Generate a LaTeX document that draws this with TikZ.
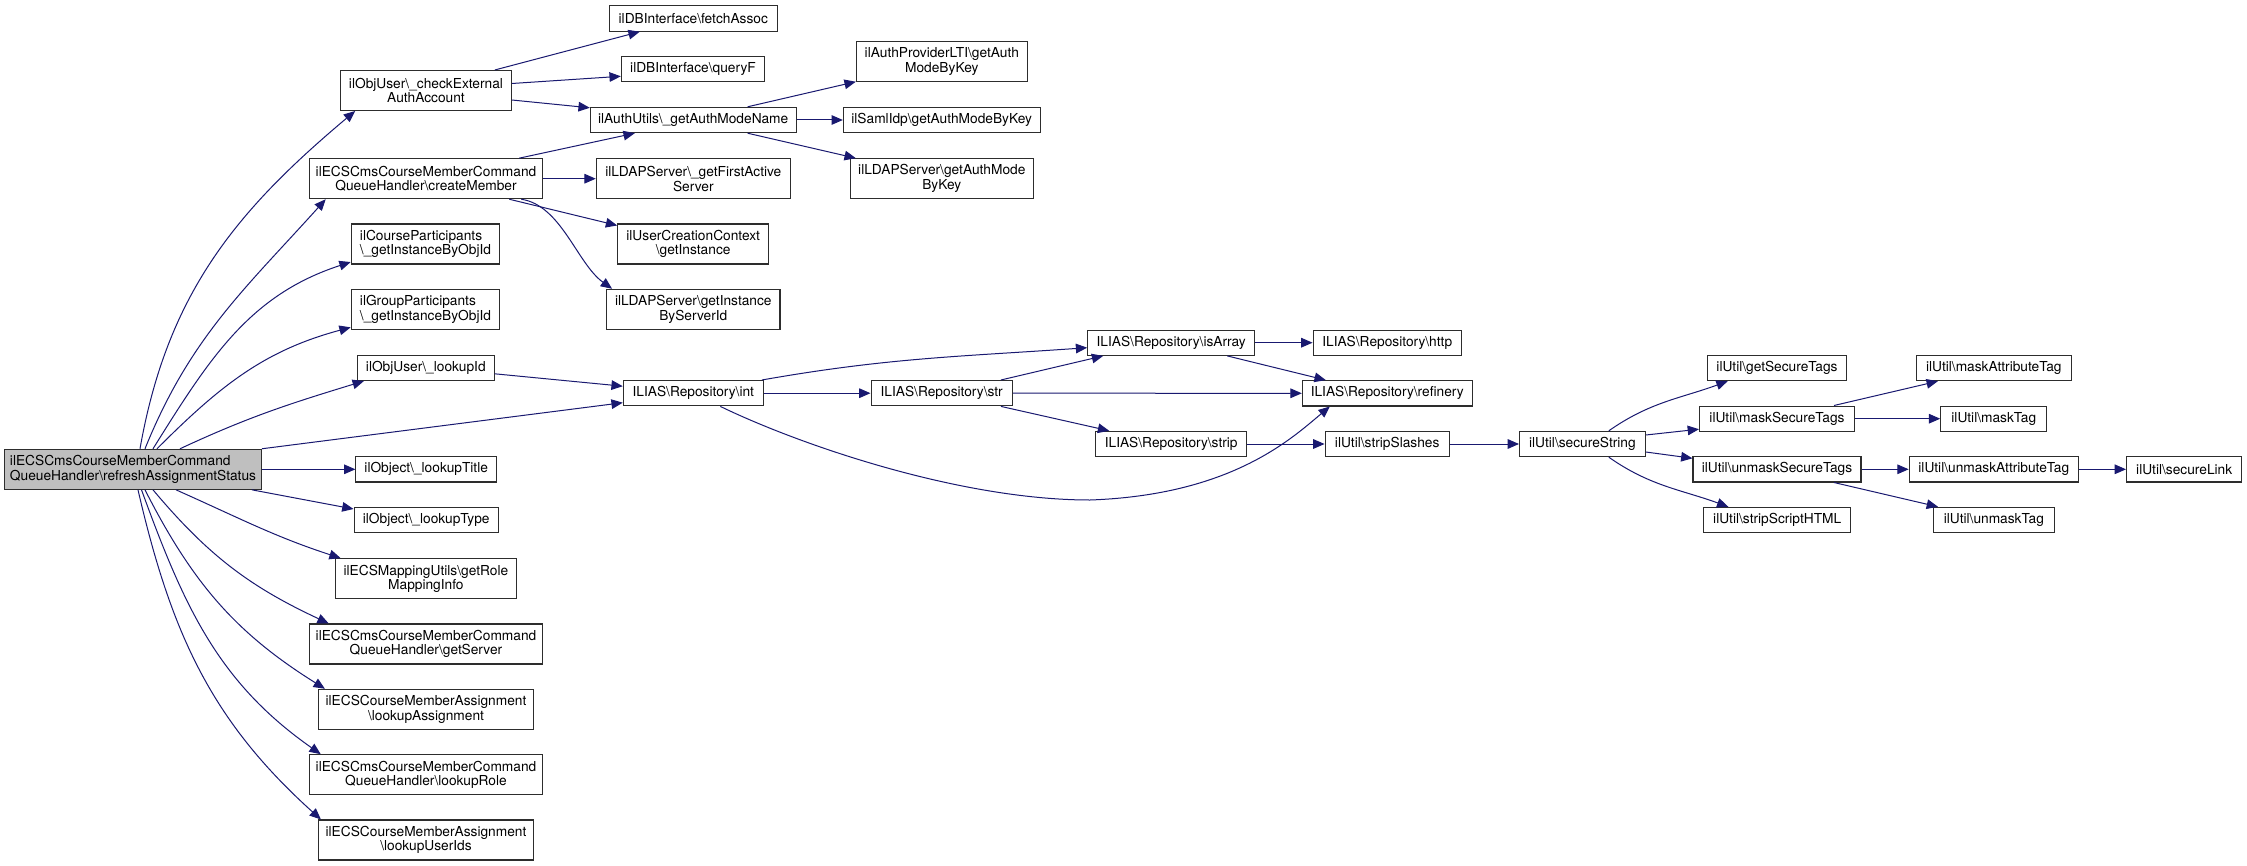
\documentclass[tikz,border=0pt]{standalone}
\usepackage{fontspec}
\setmainfont{TeX Gyre Heros}
\usetikzlibrary{positioning,arrows.meta,calc}
\definecolor{edgeblue}{RGB}{25,25,112}
\definecolor{boxline}{RGB}{45,45,45}
\definecolor{rootgray}{RGB}{191,191,191}
\newcommand{\bsl}{\textbackslash{}}
\tikzset{
  fn/.style={draw=boxline, line width=0.8pt, fill=white, align=center,
             font=\fontsize{10.3}{11}\selectfont, inner xsep=3pt, inner ysep=1pt,
             minimum height=19pt},
  fn2/.style={fn, minimum height=30pt},
  rootfn/.style={fn2, fill=rootgray, align=left},
  call/.style={-{Triangle[length=8.5pt,width=7.2pt]}, draw=edgeblue, line width=0.75pt},
}

\begin{document}
\begin{tikzpicture}[x=0.75pt,y=0.75pt]
  \fill[white] (0,0) rectangle (2247,-866);
  \useasboundingbox (0,0) rectangle (2247,-866);

  % caller
  \node[rootfn, minimum width=192.6pt] (root) at (133,-469.3)
    {ilECSCmsCourseMemberCommand\\QueueHandler\bsl refreshAssignmentStatus};

  % first level
  \node[fn2, minimum width=128pt] (ckext) at (426,-90.5) {ilObjUser\bsl\_checkExternal\\AuthAccount};
  \node[fn2, minimum width=175.1pt] (cmem) at (426,-178.7) {ilECSCmsCourseMemberCommand\\QueueHandler\bsl createMember};
  \node[fn2, minimum width=111.4pt, align=left] (cpart) at (425.5,-244) {ilCourseParticipants\\\bsl\_getInstanceByObjId};
  \node[fn2, minimum width=111.4pt, align=left] (gpart) at (425.5,-309.3) {ilGroupParticipants\\\bsl\_getInstanceByObjId};
  \node[fn, minimum width=102.5pt] (lookid) at (425.8,-367.8) {ilObjUser\bsl\_lookupId};
  \node[fn, minimum width=105.4pt] (ltitle) at (426.2,-469.3) {ilObject\bsl\_lookupTitle};
  \node[fn, minimum width=108.2pt] (ltype) at (426.2,-520) {ilObject\bsl\_lookupType};
  \node[fn2, minimum width=136pt] (rolemap) at (425.9,-578.7) {ilECSMappingUtils\bsl getRole\\MappingInfo};
  \node[fn2, minimum width=175.1pt] (getsrv) at (426,-644) {ilECSCmsCourseMemberCommand\\QueueHandler\bsl getServer};
  \node[fn2, minimum width=161.3pt] (lassign) at (426,-709.3) {ilECSCourseMemberAssignment\\\bsl lookupAssignment};
  \node[fn2, minimum width=175.1pt] (lrole) at (426,-774.7) {ilECSCmsCourseMemberCommand\\QueueHandler\bsl lookupRole};
  \node[fn2, minimum width=161.3pt] (luids) at (426,-840) {ilECSCourseMemberAssignment\\\bsl lookupUserIds};

  % second level
  \node[fn, minimum width=126pt] (fetch) at (693.3,-18.5) {ilDBInterface\bsl fetchAssoc};
  \node[fn, minimum width=107.5pt] (queryf) at (693,-69.3) {ilDBInterface\bsl queryF};
  \node[fn, minimum width=154.3pt] (authname) at (693.2,-120) {ilAuthUtils\bsl\_getAuthModeName};
  \node[fn2, minimum width=145.5pt] (firstact) at (693.3,-178.7) {ilLDAPServer\bsl\_getFirstActive\\Server};
  \node[fn2, minimum width=113.2pt] (usrctx) at (693.2,-244) {ilUserCreationContext\\\bsl getInstance};
  \node[fn2, minimum width=130pt] (byserver) at (693.3,-309.3) {ilLDAPServer\bsl getInstance\\ByServerId};
  \node[fn, minimum width=105pt] (repint) at (693.3,-393.2) {ILIAS\bsl Repository\bsl int};

  \node[fn2, minimum width=128.2pt] (ltimode) at (941.8,-61.2) {ilAuthProviderLTI\bsl getAuth\\ModeByKey};
  \node[fn, minimum width=147.5pt] (samlmode) at (941.7,-120) {ilSamlIdp\bsl getAuthModeByKey};
  \node[fn2, minimum width=137.2pt] (ldapmode) at (941.8,-178.7) {ilLDAPServer\bsl getAuthMode\\ByKey};
  \node[fn, minimum width=106pt] (repstr) at (941.7,-393.2) {ILIAS\bsl Repository\bsl str};

  \node[fn, minimum width=125.2pt] (isarray) at (1171.2,-342.7) {ILIAS\bsl Repository\bsl isArray};
  \node[fn, minimum width=113.2pt] (strip) at (1171.2,-444) {ILIAS\bsl Repository\bsl strip};
  \node[fn, minimum width=111.2pt] (http) at (1387.2,-342.7) {ILIAS\bsl Repository\bsl http};
  \node[fn, minimum width=127.3pt] (refinery) at (1387.2,-393.3) {ILIAS\bsl Repository\bsl refinery};
  \node[fn, minimum width=93.2pt] (stripsl) at (1387.2,-444) {ilUtil\bsl stripSlashes};

  % ilUtil chain
  \node[fn, minimum width=94.3pt] (securestr) at (1582.4,-444) {ilUtil\bsl secureString};
  \node[fn, minimum width=104.7pt] (getsec) at (1777,-368) {ilUtil\bsl getSecureTags};
  \node[fn, minimum width=116.2pt] (masksec) at (1777,-418.7) {ilUtil\bsl maskSecureTags};
  \node[fn, minimum width=126pt] (unmasksec) at (1777,-469.3) {ilUtil\bsl unmaskSecureTags};
  \node[fn, minimum width=110pt] (stripscr) at (1777.2,-520) {ilUtil\bsl stripScriptHTML};
  \node[fn, minimum width=116.1pt] (maskattr) at (1993.8,-368) {ilUtil\bsl maskAttributeTag};
  \node[fn, minimum width=79.6pt] (masktag) at (1993.8,-418.7) {ilUtil\bsl maskTag};
  \node[fn, minimum width=126.9pt] (unmaskattr) at (1993.8,-469.3) {ilUtil\bsl unmaskAttributeTag};
  \node[fn, minimum width=90.4pt] (unmasktag) at (1993.8,-520) {ilUtil\bsl unmaskTag};
  \node[fn, minimum width=86.5pt] (securelink) at (2184.2,-469.3) {ilUtil\bsl secureLink};

  \coordinate (intbend) at (1090,-500);

  % calls from the caller
  \draw[call] ($(root.north)+(7,0)$) to[out=80,in=220] ($(ckext.south west)+(15,0)$);
  \draw[call] ($(root.north)+(12,0)$) to[out=68,in=228] ($(cmem.south west)+(17,0)$);
  \draw[call] ($(root.north)+(20,0)$) to[out=58,in=198] ($(cpart.south west)+(0,2.5)$);
  \draw[call] ($(root.north)+(24,0)$) to[out=45,in=195] ($(gpart.south west)+(0,2.5)$);
  \draw[call] ($(root.north)+(47,0)$) to[out=25,in=197] ($(lookid.south west)+(7,0)$);
  \draw[call] (root.north east) -- ($(repint.west)+(0,-9.5)$);
  \draw[call] (root) -- (ltitle);
  \draw[call] ($(root.south east)+(-10,0)$) -- ($(ltype.west)+(0,11)$);
  \draw[call] ($(root.south)+(43,0)$) to[out=-24,in=162] ($(rolemap.north west)+(6,0)$);
  \draw[call] ($(root.south)+(20,0)$) to[out=-50,in=155] ($(getsrv.north west)+(20,0)$);
  \draw[call] ($(root.south)+(12,0)$) to[out=-63,in=148] ($(lassign.north west)+(7,0)$);
  \draw[call] ($(root.south)+(8.5,0)$) to[out=-70,in=145] ($(lrole.north west)+(12,0)$);
  \draw[call] ($(root.south)+(5,0)$) to[out=-77,in=138] ($(luids.north west)+(3,0)$);

  \draw[call] ($(ckext.north east)+(-17,0)$) -- ($(fetch.south west)+(31,0)$);
  \draw[call] ($(ckext.east)+(0,7)$) -- ($(queryf.west)+(0,-7)$);
  \draw[call] ($(ckext.east)+(0,-9.5)$) -- ($(authname.north west)+(0,-1)$);
  \draw[call] ($(cmem.north east)+(-24,0)$) -- ($(authname.south west)+(45,0)$);
  \draw[call] (cmem) -- (firstact);
  \draw[call] ($(cmem.south east)+(-34,0)$) -- ($(usrctx.north west)+(0,-2)$);
  \draw[call] ($(cmem.south east)+(-22,0)$) .. controls +(40,-6) and +(-35,25) .. ($(byserver.north west)+(6,0)$);

  \draw[call] ($(authname.north east)+(-49,0)$) -- (ltimode.south west);
  \draw[call] (authname) -- (samlmode);
  \draw[call] ($(authname.south east)+(-49,0)$) -- ($(ldapmode.north west)+(6,0)$);

  \draw[call] ($(lookid.east)+(0,-6)$) -- ($(repint.west)+(0,7)$);

  \draw[call] ($(repint.north east)+(-2,0)$) to[out=10,in=184] ($(isarray.west)+(0,-5)$);
  \draw[call] (repint) -- (repstr);
  \draw[call] ($(repint.south)+(27,0)$) .. controls (800,-445) and (960,-500) .. (intbend)
    .. controls (1230,-495) and (1290,-440) .. ($(refinery.south west)+(28,0)$);

  \draw[call] ($(repstr.north east)+(-12,0)$) -- ($(isarray.south west)+(16,0)$);
  \draw[call] (repstr) -- (refinery);
  \draw[call] ($(repstr.south east)+(-12,0)$) -- ($(strip.north west)+(14,0)$);
  \draw[call] (isarray) -- (http);
  \draw[call] ($(isarray.south east)+(-28,0)$) -- ($(refinery.north west)+(24,0)$);
  \draw[call] (strip) -- (stripsl);
  \draw[call] (stripsl) -- (securestr);

  \draw[call] ($(securestr.north east)+(-37,0)$) to[out=35,in=200] ($(getsec.south west)+(21,0)$);
  \draw[call] ($(securestr.east)+(0,9)$) -- ($(masksec.west)+(0,-10.5)$);
  \draw[call] ($(securestr.east)+(0,-8)$) -- ($(unmasksec.west)+(0,11)$);
  \draw[call] ($(securestr.south east)+(-37,0)$) to[out=-35,in=160] ($(stripscr.north west)+(25,0)$);
  \draw[call] ($(masksec.north east)+(-21,0)$) -- ($(maskattr.south west)+(22,0)$);
  \draw[call] (masksec) -- (masktag);
  \draw[call] (unmasksec) -- (unmaskattr);
  \draw[call] ($(unmasksec.south east)+(-27.6,0)$) -- ($(unmasktag.north west)+(5,0)$);
  \draw[call] (unmaskattr) -- (securelink);
\end{tikzpicture}
\end{document}
